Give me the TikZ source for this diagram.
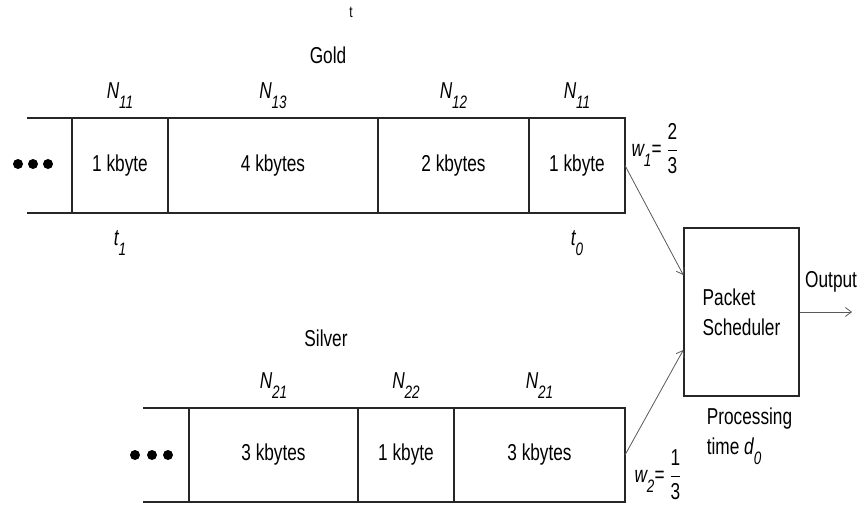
\documentclass[tikz,border=0pt]{standalone}
\usepackage{amsmath}
\usepackage{fontspec}
\setmainfont[FakeStretch=0.75]{Liberation Sans}
\usetikzlibrary{positioning, arrows.meta}
\tikzstyle{cell}=[draw=black!85, line width=1.4pt, minimum height=95pt, inner sep=0pt, outer sep=0pt]
\tikzstyle{edge}=[draw=black!85, line width=1.4pt]
\tikzstyle{feed}=[-{Straight Barb[length=6pt, width=9pt]}, draw=black!65, line width=0.8pt]
\newcommand{\lowidx}[1]{\raisebox{-10pt}{\fontsize{18}{19}\selectfont #1}}
\newcommand{\qlabel}[2]{{\itshape #1\lowidx{#2}}}

\begin{document}
\begin{tikzpicture}[x=1pt, y=-1pt, font=\fontsize{23}{30}\selectfont]
	\useasboundingbox (0,0) rectangle (859,506);
	\node [font=\fontsize{16}{18}\selectfont] (tmark) at (351,12) {t};
	% gold queue
	\node (gold) at (328,55) {Gold};
	\node [cell, minimum width=96pt] (g1) at (120,165.5) {1 kbyte};
	\node [cell, minimum width=210pt, right=0pt of g1] (g2) {4 kbytes};
	\node [cell, minimum width=151pt, right=0pt of g2] (g3) {2 kbytes};
	\node [cell, minimum width=96pt, right=0pt of g3] (g4) {1 kbyte};
	\coordinate (gtop) at (27,118);
	\coordinate (gbot) at (27,213);
	\draw [edge] (gtop) -- (g1.north west);
	\draw [edge] (gbot) -- (g1.south west);
	\foreach \x in {18,33,48} \fill (\x,164) circle (5pt);
	\node [above=6pt of g1] (n1) {\qlabel{N}{11}};
	\node [above=6pt of g2] (n2) {\qlabel{N}{13}};
	\node [above=6pt of g3] (n3) {\qlabel{N}{12}};
	\node [above=6pt of g4] (n4) {\qlabel{N}{11}};
	\node [below=14pt of g1] (t1) {\qlabel{t}{1}};
	\node [below=14pt of g4] (t0) {\qlabel{t}{0}};
	\node [anchor=west] (w1) at ([xshift=3pt,yshift=17pt]g4.east) {\qlabel{w}{1}= $\dfrac{\text{2}}{\text{3}}$};
	% silver queue
	\node (silver) at (326,338) {Silver};
	\node [cell, minimum height=94pt, minimum width=169pt] (s1) at (273.5,455) {3 kbytes};
	\node [cell, minimum height=94pt, minimum width=96pt, right=0pt of s1] (s2) {1 kbyte};
	\node [cell, minimum height=94pt, minimum width=171pt, right=0pt of s2] (s3) {3 kbytes};
	\coordinate (stop) at (143,408);
	\coordinate (sbot) at (143,502);
	\draw [edge] (stop) -- (s1.north west);
	\draw [edge] (sbot) -- (s1.south west);
	\foreach \x in {135,152,168} \fill (\x,455) circle (5pt);
	\node [above=6pt of s1] (m1) {\qlabel{N}{21}};
	\node [above=6pt of s2] (m2) {\qlabel{N}{22}};
	\node [above=6pt of s3] (m3) {\qlabel{N}{21}};
	\node [anchor=west] (w2) at ([xshift=6pt,yshift=-20pt]s3.east) {\qlabel{w}{2}= $\dfrac{\text{1}}{\text{3}}$};
	% scheduler
	\node [edge, draw, minimum width=115pt, minimum height=168pt, align=left] (sch) at (741.5,312) {Packet\\Scheduler};
	\node [anchor=north west, align=left] (proc) at ([xshift=20pt,yshift=-8pt]sch.south west) {Processing\\time \qlabel{d}{0}};
	\coordinate (out) at (852,312);
	\draw [feed] (g4.east) -- ([yshift=37pt]sch.west);
	\draw [feed] (s3.east) -- ([yshift=-38pt]sch.west);
	\draw [feed] (sch.east) -- (out) node [pos=0.6, above=16pt] (outlbl) {Output};
\end{tikzpicture}
\end{document}
